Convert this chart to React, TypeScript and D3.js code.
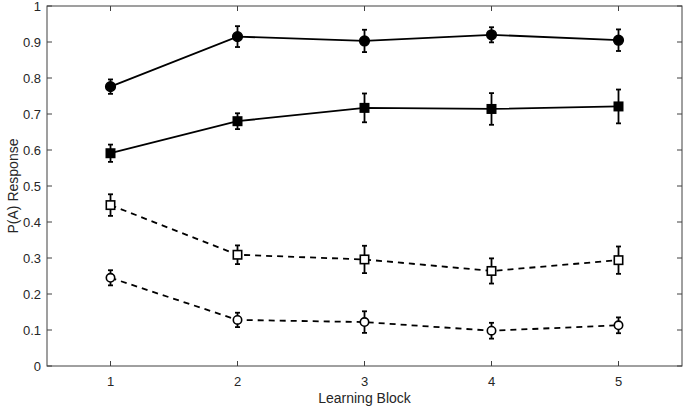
import React from 'react';
import * as d3 from 'd3';

const width = 685, height = 407;
const margin = { top: 6, right: 3, bottom: 41, left: 47 };

const blocks = [1, 2, 3, 4, 5];
const yTicks = [0, 0.1, 0.2, 0.3, 0.4, 0.5, 0.6, 0.7, 0.8, 0.9, 1];

// mean and error per learning block
const filledCircle = [0.776, 0.915, 0.903, 0.920, 0.905];
const filledCircleErr = [0.02, 0.029, 0.031, 0.021, 0.03];
const filledSquare = [0.591, 0.680, 0.717, 0.714, 0.721];
const filledSquareErr = [0.024, 0.022, 0.04, 0.044, 0.047];
const openSquare = [0.447, 0.309, 0.296, 0.264, 0.294];
const openSquareErr = [0.03, 0.026, 0.038, 0.035, 0.038];
const openCircle = [0.245, 0.128, 0.122, 0.098, 0.113];
const openCircleErr = [0.021, 0.02, 0.03, 0.022, 0.022];

const series = [
  { id: 'fc', values: filledCircle, err: filledCircleErr, marker: 'circle', filled: true, dashed: false },
  { id: 'fs', values: filledSquare, err: filledSquareErr, marker: 'square', filled: true, dashed: false },
  { id: 'os', values: openSquare, err: openSquareErr, marker: 'square', filled: false, dashed: true },
  { id: 'oc', values: openCircle, err: openCircleErr, marker: 'circle', filled: false, dashed: true },
];

const font = 'Liberation Sans, Arial, Helvetica, sans-serif';
const axisColor = '#404040';

const App = () => {
  const x = d3.scaleLinear().domain([0.5, 5.5]).range([margin.left, width - margin.right]);
  const y = d3.scaleLinear().domain([0, 1]).range([height - margin.bottom, margin.top]);
  const line = d3.line<number>().x((d, i) => x(blocks[i])).y(d => y(d));

  const [x0, x1] = x.range();
  const [y0, y1] = y.range();
  const tickLen = 5;

  return <svg width={width} height={height} style={{ position: 'absolute', left: 0, top: 0, background: '#fff' }}>
    {/* 坐标框 */}
    <rect x={x0} y={y1} width={x1 - x0} height={y0 - y1} fill='none' stroke={axisColor} strokeWidth={1} />
    {/* x轴 */}
    <g className='xAxis'>
      {blocks.map(b => <g key={b}>
        <line x1={x(b)} x2={x(b)} y1={y0} y2={y0 - tickLen} stroke={axisColor} />
        <line x1={x(b)} x2={x(b)} y1={y1} y2={y1 + tickLen} stroke={axisColor} />
        <text x={x(b)} y={y0 + 20} textAnchor='middle' fontFamily={font} fontSize={13} fill='#262626'>{b}</text>
      </g>)}
      <text x={(x0 + x1) / 2} y={height - 4} textAnchor='middle' fontFamily={font} fontSize={14} fill='#262626'>Learning Block</text>
    </g>
    {/* y轴 */}
    <g className='yAxis'>
      {yTicks.map(t => <g key={t}>
        <line x1={x0} x2={x0 + tickLen} y1={y(t)} y2={y(t)} stroke={axisColor} />
        <line x1={x1} x2={x1 - tickLen} y1={y(t)} y2={y(t)} stroke={axisColor} />
        <text x={x0 - 6} y={y(t)} dy='0.35em' textAnchor='end' fontFamily={font} fontSize={13} fill='#262626'>{t}</text>
      </g>)}
      <text transform={`translate(18, ${(y0 + y1) / 2}) rotate(-90)`} textAnchor='middle' fontFamily={font} fontSize={14} fill='#262626'>P(A) Response</text>
    </g>
    {/* 数据 */}
    {series.map(s => <g key={s.id}>
      <path d={line(s.values) || ''} fill='none' stroke='#000' strokeWidth={1.8}
        strokeDasharray={s.dashed ? '6,5' : undefined} />
      {s.values.map((v, i) => {
        const cx = x(blocks[i]), cy = y(v);
        const top = y(v + s.err[i]), bot = y(v - s.err[i]);
        return <g key={i}>
          <line x1={cx} x2={cx} y1={top} y2={bot} stroke='#000' strokeWidth={1.8} />
          <line x1={cx - 2.5} x2={cx + 2.5} y1={top} y2={top} stroke='#000' strokeWidth={1.8} />
          <line x1={cx - 2.5} x2={cx + 2.5} y1={bot} y2={bot} stroke='#000' strokeWidth={1.8} />
          {s.marker === 'circle'
            ? <circle cx={cx} cy={cy} r={s.filled ? 4.8 : 4.2} fill={s.filled ? '#000' : '#fff'} stroke='#000' strokeWidth={1.6} />
            : <rect x={cx - 4.2} y={cy - 4.2} width={8.4} height={8.4} fill={s.filled ? '#000' : '#fff'} stroke='#000' strokeWidth={1.6} />}
        </g>;
      })}
    </g>)}
  </svg>;
};

export default App;
